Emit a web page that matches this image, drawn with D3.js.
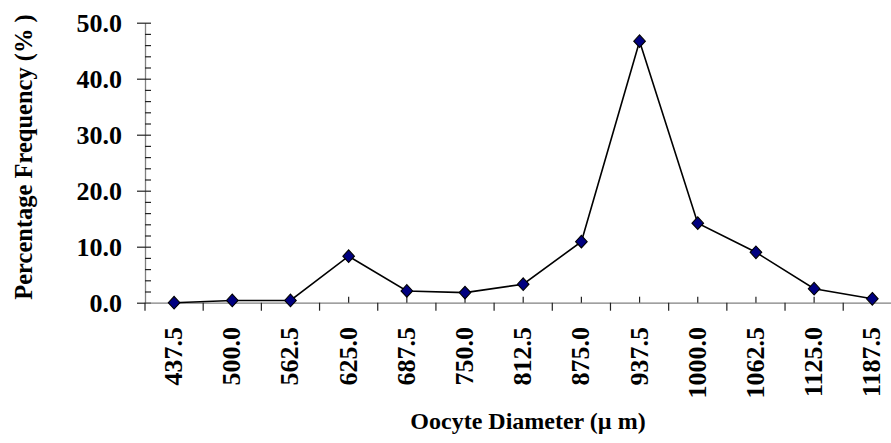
<!DOCTYPE html>
<html>
<head>
<meta charset="utf-8">
<script src="https://cdn.jsdelivr.net/npm/d3@7"></script>
<style>
  html, body { margin: 0; padding: 0; background: #fff; }
  svg { display: block; }
  text { font-family: "Liberation Serif", "Times New Roman", serif; font-weight: bold; fill: #000; }
</style>
</head>
<body>
<svg id="chart" width="891" height="443"></svg>
<script>
const categories = ["437.5","500.0","562.5","625.0","687.5","750.0","812.5","875.0","937.5","1000.0","1062.5","1125.0","1187.5"];
const values = [0.0, 0.4, 0.4, 8.3, 2.1, 1.8, 3.3, 10.9, 46.7, 14.2, 9.0, 2.5, 0.7];
const yTicks = [0, 10, 20, 30, 40, 50];
const yMinorTicks = [2,4,6,8,12,14,16,18,22,24,26,28,32,34,36,38,42,44,46,48];
const yTitle = "Percentage Frequency (% )";
const xTitle = "Oocyte Diameter (\u00B5 m)";

const svg = d3.select("#chart");
const x0 = 145, x1 = 901.4, yBottom = 302.7, yTop = 22.7;

const x = d3.scaleBand().domain(categories).range([x0, x1]).padding(0);
const y = d3.scaleLinear().domain([0, 50]).range([yBottom, yTop]);
const cx = c => x(c) + x.bandwidth() / 2;

// Y axis major
const gy = svg.append("g").attr("transform", `translate(${x0},0)`)
  .call(d3.axisLeft(y).tickValues(yTicks).tickFormat(d3.format(".1f")).tickSizeInner(0).tickSizeOuter(0).tickPadding(23));
gy.select(".domain").attr("stroke", "#808080").attr("stroke-width", 1.3);
gy.selectAll(".tick line").attr("x1", -8).attr("x2", 6).attr("stroke", "#222").attr("stroke-width", 1.2);
gy.selectAll(".tick text").attr("font-size", 26).attr("font-family", "Liberation Serif").attr("font-weight", "bold").attr("fill", "#000");

// Y axis minor
const gym = svg.append("g").attr("transform", `translate(${x0},0)`)
  .call(d3.axisRight(y).tickValues(yMinorTicks).tickFormat("").tickSizeInner(6).tickSizeOuter(0));
gym.select(".domain").remove();
gym.selectAll(".tick line").attr("stroke", "#222").attr("stroke-width", 1.2);

// X axis (center ticks upward, labels rotated)
const gx = svg.append("g").attr("transform", `translate(0,${yBottom})`)
  .call(d3.axisBottom(x).tickSizeInner(-6).tickSizeOuter(0));
gx.select(".domain").attr("stroke", "#808080").attr("stroke-width", 1.3);
gx.selectAll(".tick line").attr("stroke", "#222").attr("stroke-width", 1.2);
gx.selectAll(".tick text")
  .attr("transform", "rotate(-90)")
  .attr("text-anchor", "end")
  .attr("x", -24.3).attr("y", 8).attr("dy", 0)
  .attr("font-size", 26).attr("font-family", "Liberation Serif").attr("font-weight", "bold").attr("fill", "#000");

// X boundary ticks (downward)
const bounds = categories.map(c => x(c)).concat([x1]);
svg.append("g").selectAll("line").data(bounds).join("line")
  .attr("x1", d => d).attr("x2", d => d)
  .attr("y1", yBottom).attr("y2", yBottom + 8)
  .attr("stroke", "#222").attr("stroke-width", 1.2);

// Line
const data = categories.map((c, i) => ({c, v: values[i]}));
svg.append("path").datum(data)
  .attr("fill", "none").attr("stroke", "#000").attr("stroke-width", 1.6)
  .attr("d", d3.line().x(d => cx(d.c)).y(d => y(d.v)));

// Diamonds
svg.append("g").selectAll("path").data(data).join("path")
  .attr("transform", d => `translate(${cx(d.c)},${y(d.v)})`)
  .attr("d", "M0,-6.3L5.8,0L0,6.3L-5.8,0Z")
  .attr("fill", "#000080").attr("stroke", "#000").attr("stroke-width", 1.1);

// Titles
svg.append("text").attr("transform", "translate(32,157) rotate(-90)")
  .attr("text-anchor", "middle").attr("font-size", 24.5).text(yTitle);
svg.append("text").attr("x", 528).attr("y", 428.5)
  .attr("text-anchor", "middle").attr("font-size", 24).text(xTitle);
</script>
</body>
</html>
